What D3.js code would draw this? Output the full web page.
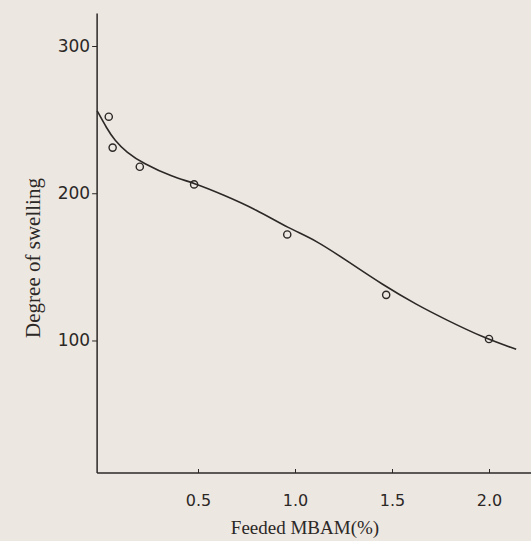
<!DOCTYPE html>
<html>
<head>
<meta charset="utf-8">
<script src="https://cdn.jsdelivr.net/npm/d3@7"></script>
<style>
  body { margin: 0; background: #ede7e1; }
  svg { display: block; }
  .tick text { font-family: "DejaVu Sans", sans-serif; }
</style>
</head>
<body>
<svg id="chart"></svg>
<script>
// measured points (Feeded MBAM %, degree of swelling)
const pointX = [0.04, 0.06, 0.2, 0.48, 0.96, 1.47, 2.0];
const pointY = [252, 231, 218, 206, 172, 131, 101];

// fitted curve as drawn
const curveX = [-0.02, 0.03, 0.07, 0.13, 0.22, 0.37, 0.48, 0.63, 0.8, 0.97, 1.11, 1.28, 1.45, 1.63, 1.78, 1.97, 2.14];
const curveY = [256, 244, 236, 228, 220, 211, 207, 199, 189, 176, 168, 153, 138, 124, 114, 102, 94];

const xTicks = [0.5, 1.0, 1.5, 2.0];
const yTicks = [100, 200, 300];

const width = 531, height = 541;

const svg = d3.select("#chart")
    .attr("width", width)
    .attr("height", height);

const x = d3.scaleLinear().domain([0, 2]).range([101, 489]);
const y = d3.scaleLinear().domain([10, 300]).range([473, 46]);

const ink = "#2b2826";

// axes
const xAxis = svg.append("g")
    .attr("transform", `translate(0,${y(10)})`)
    .call(d3.axisBottom(x).tickValues(xTicks).tickSize(-4).tickPadding(22)
        .tickFormat(d3.format(".1f")));
xAxis.select(".domain").remove();
xAxis.selectAll("line").attr("stroke", ink);
xAxis.selectAll("text").attr("fill", ink).style("font-size", "16px");
svg.append("line")
    .attr("x1", x(-0.02)).attr("x2", width)
    .attr("y1", y(10)).attr("y2", y(10))
    .attr("stroke", ink).attr("stroke-width", 1.5);

const yAxis = svg.append("g")
    .attr("transform", `translate(${x(-0.02)},0)`)
    .call(d3.axisLeft(y).tickValues(yTicks).tickSize(5).tickPadding(2));
yAxis.select(".domain").remove();
yAxis.selectAll("line").attr("stroke", ink);
yAxis.selectAll("text").attr("fill", ink).style("font-size", "17px");
svg.append("line")
    .attr("x1", x(-0.02)).attr("x2", x(-0.02))
    .attr("y1", y(322)).attr("y2", y(10))
    .attr("stroke", ink).attr("stroke-width", 1.5);

// curve
const line = d3.line()
    .x((d, i) => x(curveX[i]))
    .y(d => y(d))
    .curve(d3.curveBasis);
svg.append("path")
    .datum(curveY)
    .attr("d", line)
    .attr("fill", "none")
    .attr("stroke", ink)
    .attr("stroke-width", 1.6);

// points
svg.selectAll(".pt")
    .data(pointY)
    .enter()
    .append("circle")
    .attr("class", "pt")
    .attr("cx", (d, i) => x(pointX[i]))
    .attr("cy", d => y(d))
    .attr("r", 3.6)
    .attr("fill", "none")
    .attr("stroke", ink)
    .attr("stroke-width", 1.4);

// titles
svg.append("text")
    .attr("x", 305).attr("y", 534)
    .attr("text-anchor", "middle")
    .attr("fill", ink)
    .style("font-family", "'Liberation Serif', serif")
    .style("font-size", "19px")
    .text("Feeded MBAM(%)");

svg.append("text")
    .attr("transform", "translate(40,258) rotate(-90)")
    .attr("text-anchor", "middle")
    .attr("fill", ink)
    .style("font-family", "'Liberation Serif', serif")
    .style("font-size", "21px")
    .text("Degree of swelling");
</script>
</body>
</html>
